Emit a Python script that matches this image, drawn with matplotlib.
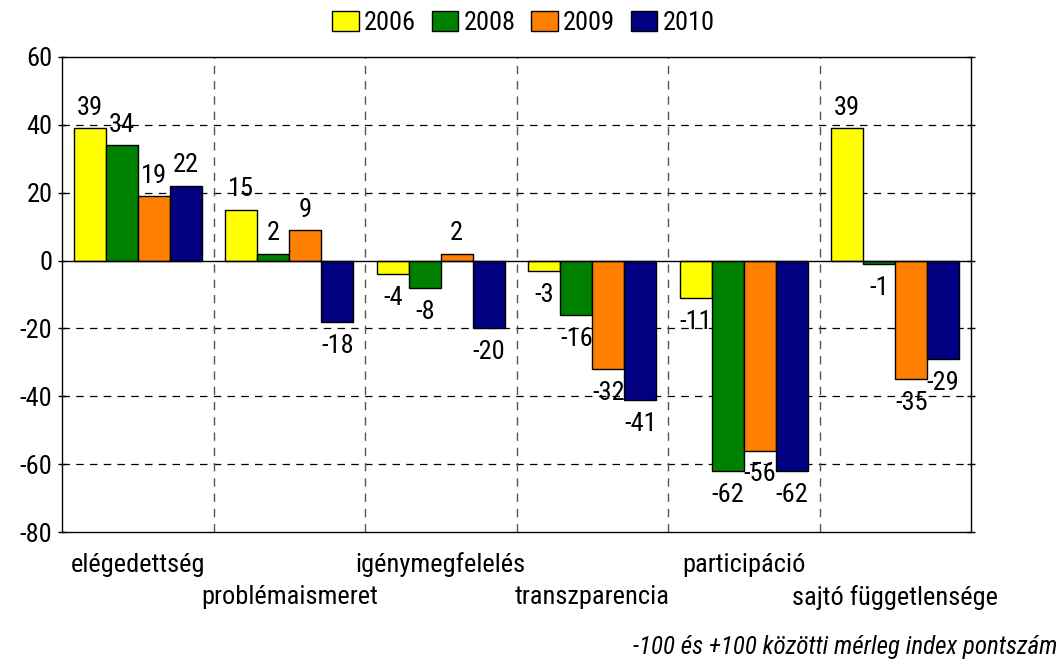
import matplotlib
matplotlib.use("Agg")
import matplotlib.pyplot as plt
import numpy as np
from matplotlib import font_manager

categories = ["elégedettség", "problémaismeret", "igénymegfelelés",
              "transzparencia", "participáció", "sajtó függetlensége"]
years = ["2006", "2008", "2009", "2010"]
v2006 = [39, 15, -4, -3, -11, 39]
v2008 = [34, 2, -8, -16, -62, -1]
v2009 = [19, 9, 2, -32, -56, -35]
v2010 = [22, -18, -20, -41, -62, -29]
series = [v2006, v2008, v2009, v2010]
colors = ["#FFFF00", "#008000", "#FF8000", "#000080"]
yticks = [-80, -60, -40, -20, 0, 20, 40, 60]
footnote = "-100 és +100 közötti mérleg index pontszám"

# look for a condensed sans face if one is installed
cands = []
for f in font_manager.fontManager.ttflist:
    st = str(f.stretch).lower()
    nm = f.name.lower()
    if ("narrow" in nm or "condensed" in nm or st in ("condensed", "semi-condensed", "extra-condensed")
            or (isinstance(f.stretch, int) and f.stretch < 500)) and f.style == "normal":
        cands.append(f)
narrow = None
for pref in ["liberation sans narrow", "arial narrow", "roboto condensed", "open sans condensed",
             "noto sans", "open sans", "roboto"]:
    for f in cands:
        if f.name.lower() == pref and f.weight in (400, "normal", "regular"):
            narrow = f
            break
    if narrow:
        break
fs = 17
stretch = "normal"
fam = "Liberation Sans"
if narrow is not None:
    fam = narrow.name
    stretch = narrow.stretch
    fs = 19
plt.rcParams["font.family"] = [fam, "DejaVu Sans"]
plt.rcParams["font.stretch"] = stretch

fig = plt.figure(figsize=(10.62, 6.59), dpi=100)
ax = fig.add_axes([62/1062, 1-532/659, (971-62)/1062, (532-57)/659])

n = len(categories)
x = np.arange(n)
bw = 0.2112
offs = (np.arange(4) - 1.5) * bw
for i, (vals, c, yr) in enumerate(zip(series, colors, years)):
    ax.bar(x + offs[i], vals, bw, color=c, edgecolor="black", linewidth=1.0,
           label=yr, zorder=3)
    for xi, v in zip(x + offs[i], vals):
        if v >= 0:
            ax.text(xi, v + 2.5, f"{v}", ha="center", va="bottom", fontsize=fs, zorder=4)
        else:
            ax.text(xi, v - 3.5, f"{v}", ha="center", va="top", fontsize=fs, zorder=4)

ax.set_xlim(-0.5, n - 0.5)
ax.set_ylim(-80, 60)
ax.set_yticks(yticks)
ax.set_yticklabels([str(t) for t in yticks], fontsize=fs)
ax.tick_params(axis="y", direction="inout", length=6, width=1, right=True, pad=4)
ax.set_xticks([])
for t in [-60, -40, -20, 20, 40]:
    ax.axhline(t, color="black", linestyle=(0, (6, 5)), linewidth=0.9, zorder=1)
for b in np.arange(0.5, n - 0.5, 1):
    ax.axvline(b, color="#555555", linestyle=(0, (6, 5)), linewidth=1.0, zorder=1)
ax.axhline(0, color="black", linewidth=1.0, zorder=4)
for s in ax.spines.values():
    s.set_linewidth(1.0)

for i, cat in enumerate(categories):
    yoff = -0.069 if i % 2 == 0 else -0.137
    ax.text(i, yoff, cat, transform=ax.get_xaxis_transform(), ha="center",
            va="center", fontsize=fs)

fig.legend(loc="upper center", bbox_to_anchor=(0.493, 1.02), ncol=4, frameon=False,
           fontsize=fs, handlelength=1.0, handleheight=0.8, handletextpad=0.2,
           columnspacing=0.6)
fig.text(1057/1062, 1-647/659, footnote, ha="right", va="center", fontsize=fs - 1,
         style="italic")

fig.savefig("out.png", dpi=100)
